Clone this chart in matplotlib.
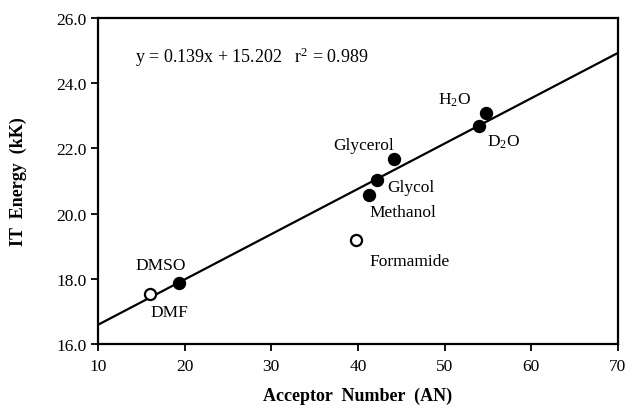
import matplotlib.pyplot as plt
import numpy as np

plt.rcParams['font.family'] = 'Liberation Serif'
plt.rcParams['mathtext.fontset'] = 'custom'
plt.rcParams['mathtext.rm'] = 'Liberation Serif'
plt.rcParams['mathtext.it'] = 'Liberation Serif:italic'

# solvents: acceptor number vs IT energy
solvents = ['DMF', 'DMSO', 'Formamide', 'Methanol', 'Glycol', 'Glycerol', 'D$_2$O', 'H$_2$O']
acceptor_number = [16.0, 19.3, 39.8, 41.3, 42.2, 44.2, 54.0, 54.8]
it_energy = [17.55, 17.87, 19.18, 20.58, 21.02, 21.67, 22.68, 23.08]
is_open = [True, False, True, False, False, False, False, False]

# label anchors for each solvent
label_x = [18.2, 17.2, 46.0, 45.2, 46.1, 40.6, 56.8, 51.1]
label_y = [16.98, 18.42, 18.55, 20.05, 20.82, 22.1, 22.23, 23.52]

slope, intercept, r2 = 0.139, 15.202, 0.989

fig = plt.figure(figsize=(6.28, 4.06), dpi=100)
ax = fig.add_axes([0.156, 0.150, 0.828, 0.803])

xs = np.array([10, 70])
ax.plot(xs, slope * xs + intercept, color='black', lw=1.6, zorder=2)

for x, y, hollow in zip(acceptor_number, it_energy, is_open):
    ax.plot(x, y, 'o', ms=8, mec='black', mew=1.6,
            mfc='white' if hollow else 'black', zorder=3)

for name, lx, ly in zip(solvents, label_x, label_y):
    ax.text(lx, ly, name, ha='center', va='center', fontsize=12.5)

ax.text(14.3, 24.83, f"y = {slope}x + {intercept}   r$^2$ = {r2}",
        ha='left', va='center', fontsize=13)

ax.set_xlim(10, 70)
ax.set_ylim(16, 26)
ax.set_xticks(range(10, 71, 10))
ax.set_yticks(np.arange(16, 26.1, 2))
ax.set_yticklabels([f"{v:.1f}" for v in np.arange(16, 26.1, 2)])
ax.tick_params(direction='out', length=5, width=1.3, labelsize=12.5,
               top=False, right=False, pad=3)
ax.tick_params(axis='x', pad=5)
for s in ax.spines.values():
    s.set_linewidth(1.6)

ax.set_xlabel('Acceptor  Number  (AN)', fontsize=13, fontweight='bold', labelpad=9)
ax.set_ylabel('IT  Energy  (kK)', fontsize=13, fontweight='bold', labelpad=21)

fig.savefig('out.png', dpi=100)
